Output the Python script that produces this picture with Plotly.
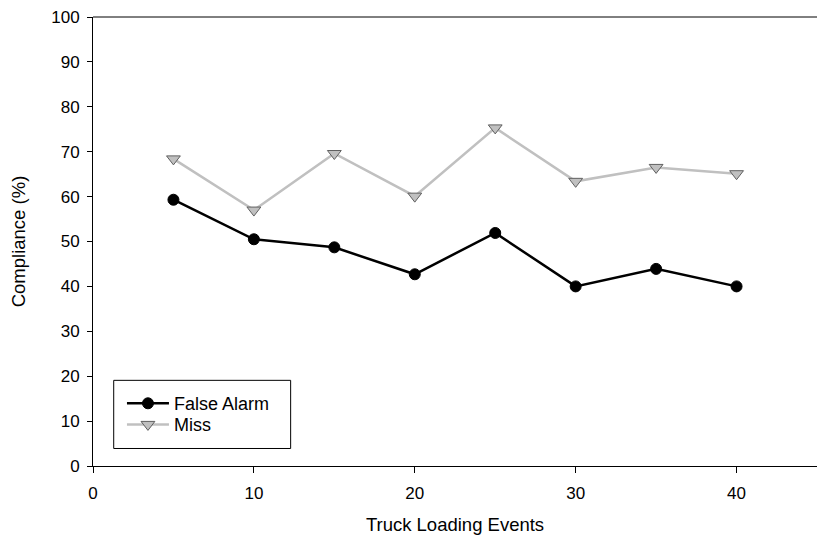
import plotly.graph_objects as go

# Truck loading events and compliance for each alarm type
events = [5, 10, 15, 20, 25, 30, 35, 40]
false_alarm = [59.3, 50.5, 48.7, 42.7, 51.9, 40.0, 43.9, 40.0]
miss = [68.4, 57.0, 69.6, 60.1, 75.3, 63.4, 66.5, 65.1]

x_ticks = [0, 10, 20, 30, 40]
y_ticks = [0, 10, 20, 30, 40, 50, 60, 70, 80, 90, 100]

FONT = "Arial, Liberation Sans, sans-serif"

fig = go.Figure()

fig.add_trace(go.Scatter(
    x=events, y=false_alarm, name="False Alarm", mode="lines+markers",
    line=dict(color="black", width=2.5),
    marker=dict(symbol="circle", size=11, color="black",
                line=dict(color="black", width=1)),
    legend="legend",
))
fig.add_trace(go.Scatter(
    x=events, y=miss, name="Miss", mode="lines+markers",
    line=dict(color="#c0c0c0", width=2.5),
    marker=dict(symbol="triangle-down", size=12, color="#c0c0c0",
                line=dict(color="#606060", width=1)),
    legend="legend2",
))

legend_style = dict(
    xanchor="left", yanchor="middle",
    borderwidth=0, bgcolor="rgba(0,0,0,0)",
    font=dict(size=18, family=FONT, color="black"),
    itemwidth=42,
)

fig.update_layout(
    width=817, height=541,
    margin=dict(l=93, r=0, t=17, b=75),
    paper_bgcolor="white", plot_bgcolor="white",
    font=dict(family=FONT, size=17, color="black"),
    showlegend=True,
    legend=dict(x=0.040, y=0.139, **legend_style),
    legend2=dict(x=0.040, y=0.092, **legend_style),
    xaxis=dict(
        range=[0, 45], tickvals=x_ticks, ticktext=[str(v) for v in x_ticks],
        showgrid=False, zeroline=False,
        showline=True, linecolor="black", linewidth=1,
        ticks="outside", ticklen=6, tickcolor="black",
        ticklabelstandoff=6,
        tickfont=dict(size=17),
        title=dict(text="Truck Loading Events", font=dict(size=18.5), standoff=15),
    ),
    yaxis=dict(
        range=[0, 100], tickvals=y_ticks, ticktext=[str(v) for v in y_ticks],
        showgrid=False, zeroline=False,
        showline=True, linecolor="black", linewidth=1,
        ticks="outside", ticklen=5, tickcolor="black",
        ticklabelstandoff=4,
        tickfont=dict(size=17),
        title=dict(text="Compliance (%)", font=dict(size=18.5), standoff=20),
    ),
    shapes=[
        # top border of the plotting area
        dict(type="line", xref="paper", yref="paper", x0=0, x1=1, y0=1, y1=1,
             line=dict(color="black", width=1)),
        # frame around the legend entries
        dict(type="rect", xref="paper", yref="paper",
             x0=0.0286, x1=0.273, y0=0.039, y1=0.1908,
             line=dict(color="black", width=1)),
    ],
)

fig.write_html("out.html")
